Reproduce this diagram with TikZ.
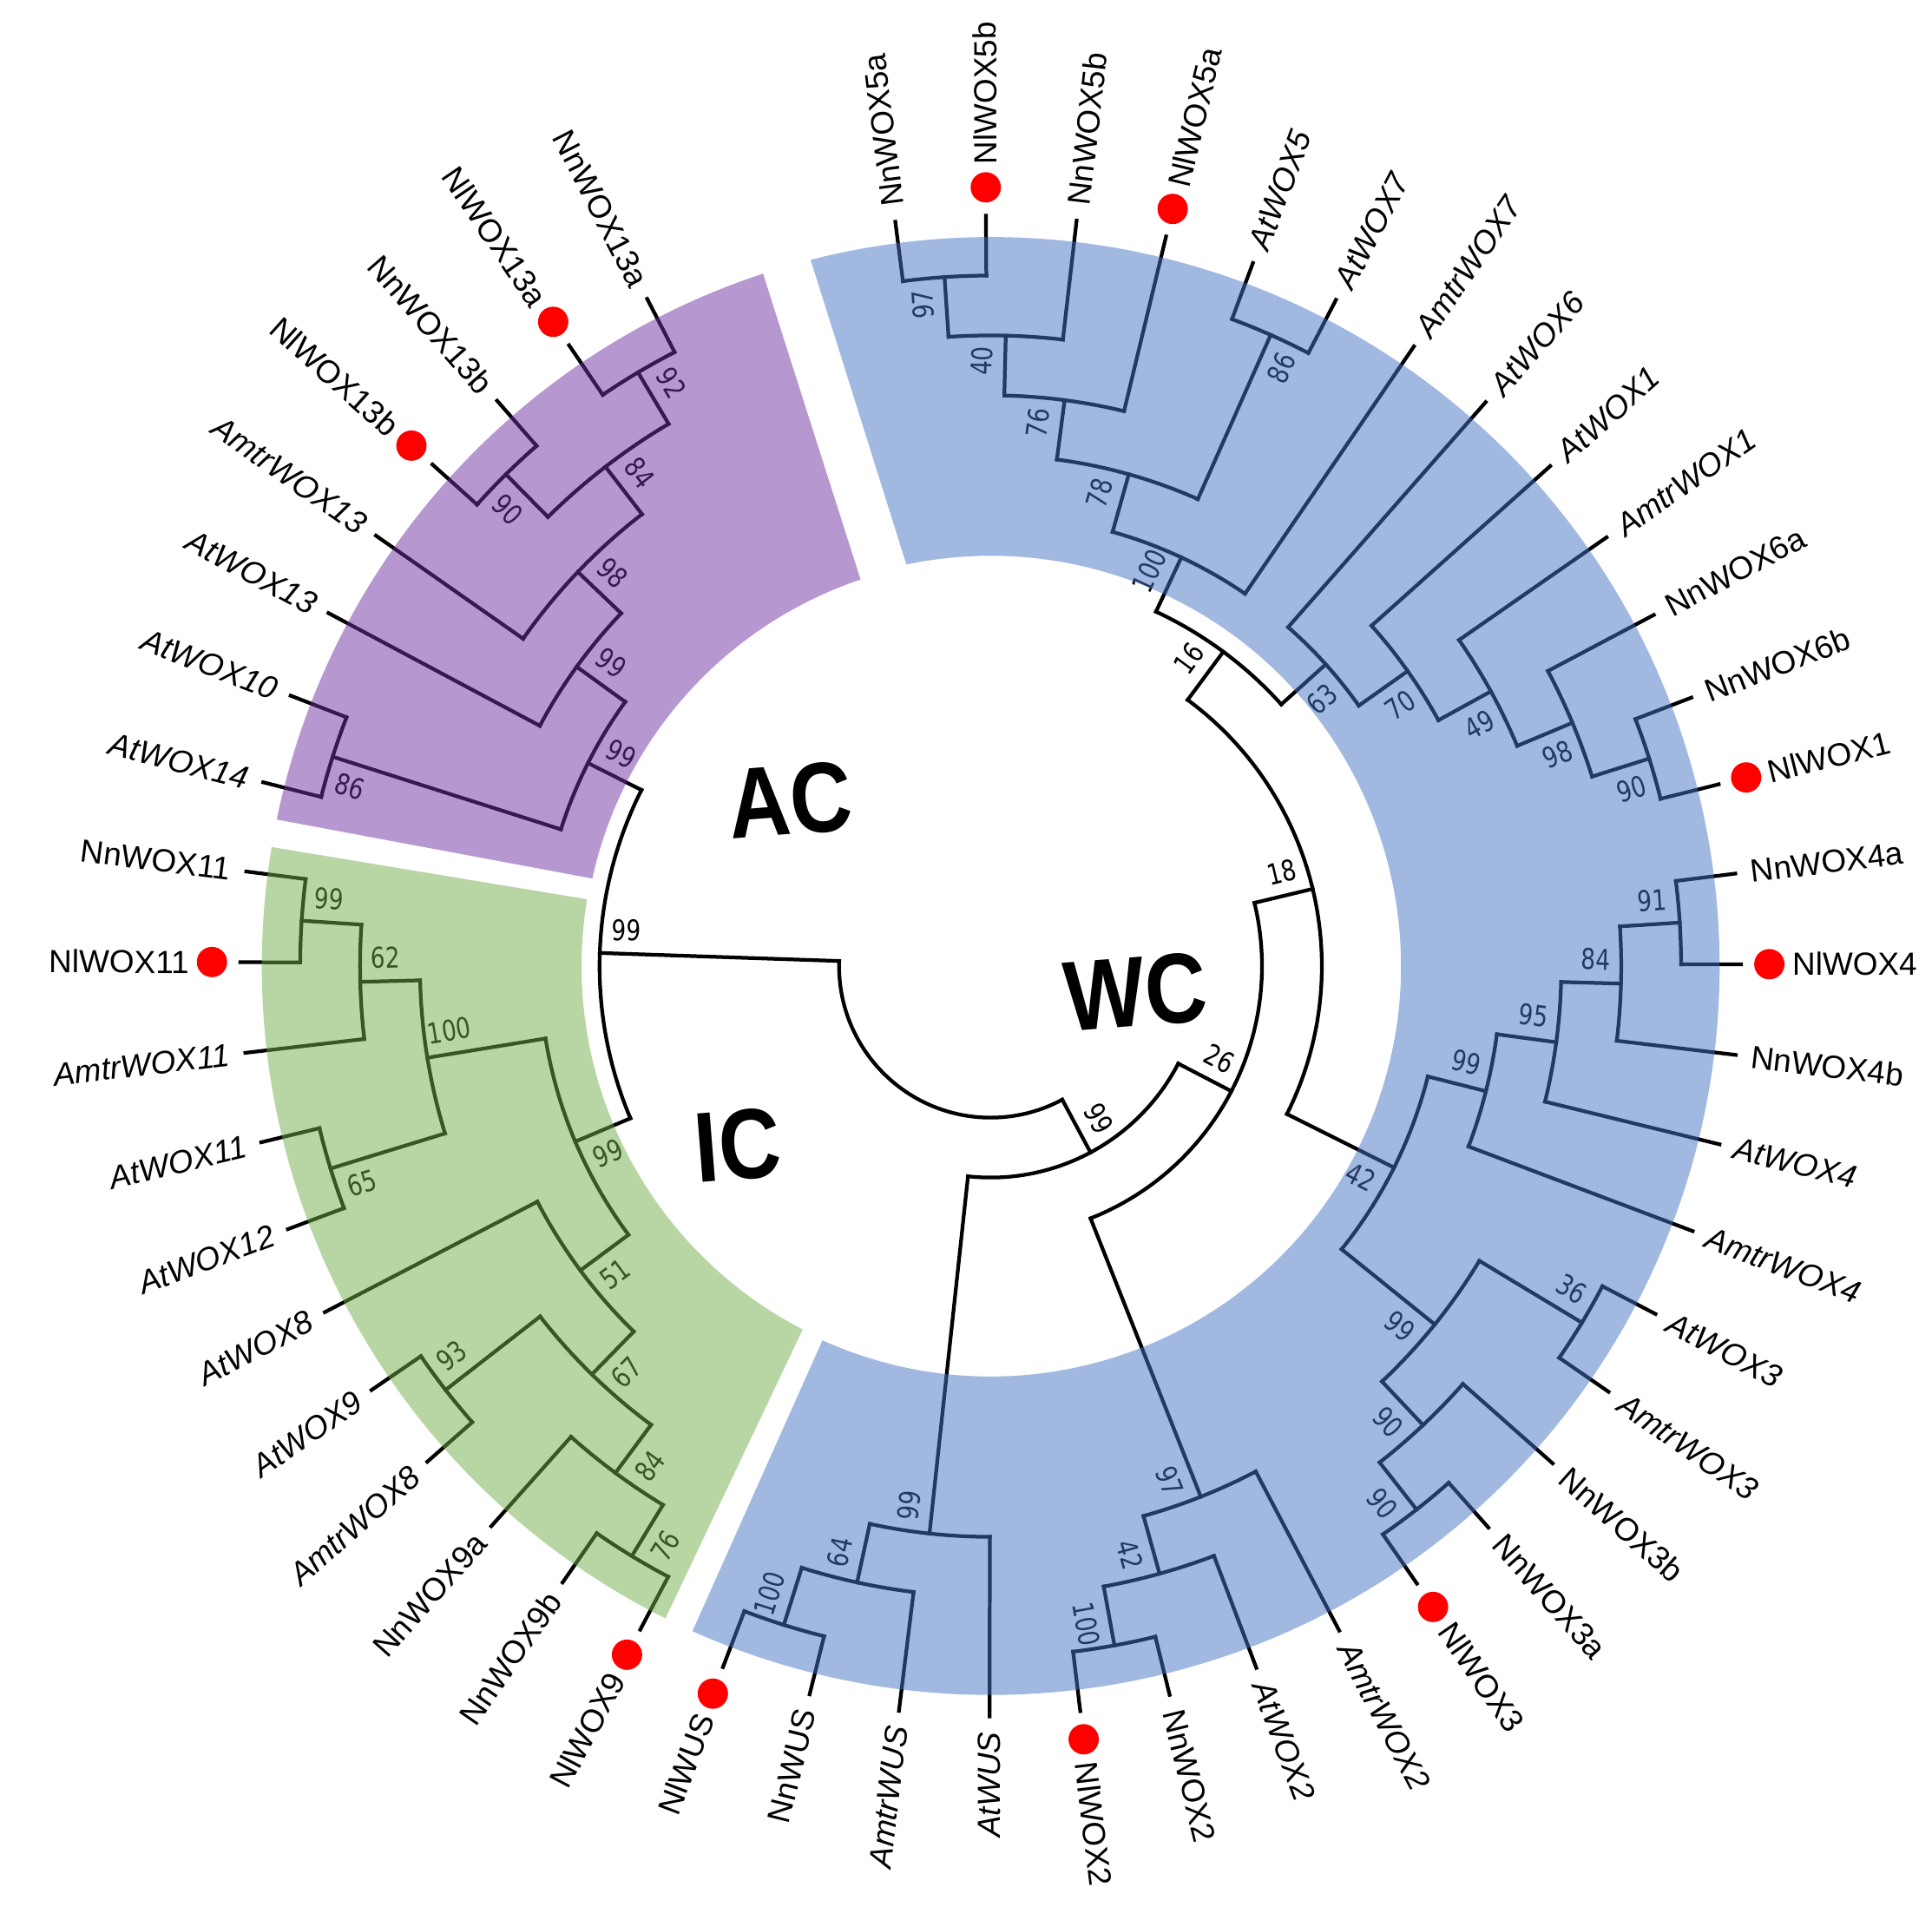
\documentclass[tikz,border=0pt]{standalone}
\usepackage{fontspec}
\setmainfont{Liberation Sans}
\newfontfamily\bootfont[FakeStretch=0.8]{DejaVu Sans}
\usetikzlibrary{calc}

\definecolor{wcblue}{RGB}{68,114,196}
\definecolor{acpurple}{RGB}{112,48,160}
\definecolor{icgreen}{RGB}{112,173,71}
\newcommand{\leaffont}{\fontsize{7.4}{8}\selectfont}

% nodo interno: nome, angolo, livello, livello padre, figlio 1, figlio 2, bootstrap, lato
\newcommand{\clade}[8]{%
  \pgfmathsetmacro{\cRn}{1.23+0.486*#3}%
  \pgfmathsetmacro{\cRp}{1.23+0.486*#4}%
  \pgfmathsetmacro{\cRb}{\cRn-0.21}%
  \pgfmathsetmacro{\cRa}{#2+(#8)}%
  \pgfmathsetmacro{\cRot}{(#2>-90 && #2<100) ? #2 : #2+180}%
  \draw[ramo] (#5:\cRn) arc[start angle=#5, end angle=#6, radius=\cRn];
  \draw[ramo] (#2:\cRp) -- (#2:\cRn);
  \node[bootlab, rotate=\cRot] (#1) at ($(#2:\cRb)+(\cRa:0.19)$) {#7};
}

\begin{document}
\begin{tikzpicture}[
    ramo/.style={line width=0.85pt, line cap=rect},
    bootlab/.style={font=\bootfont\fontsize{6.6}{7}\selectfont, inner sep=0pt},
    foglia/.style={inner sep=0pt},
    clado/.style={font=\bfseries\fontsize{23}{23}\selectfont, inner sep=0pt}
  ]
  \useasboundingbox (-8.04,-7.74) rectangle (7.64,7.84);

  % Rami terminali
  \foreach \i/\nm/\tp/\pl in {1/NnWOX5a/n/9, 2/NlWOX5b/l/9, 3/NnWOX5b/n/8, 4/NlWOX5a/l/7,
      5/AtWOX5/i/9, 6/AtWOX7/i/9, 7/AmtrWOX7/i/5, 8/AtWOX6/i/5, 9/AtWOX1/i/6,
      10/AmtrWOX1/i/7, 11/NnWOX6a/n/8, 12/NnWOX6b/n/9, 13/NlWOX1/l/9, 14/NnWOX4a/n/9,
      15/NlWOX4/l/9, 16/NnWOX4b/n/8, 17/AtWOX4/i/7, 18/AmtrWOX4/i/6, 19/AtWOX3/i/9,
      20/AmtrWOX3/i/9, 21/NnWOX3b/n/8, 22/NnWOX3a/n/9, 23/NlWOX3/l/9, 24/AmtrWOX2/i/7,
      25/AtWOX2/i/8, 26/NnWOX2/n/9, 27/NlWOX2/l/9, 28/AtWUS/i/7, 29/AmtrWUS/i/8,
      30/NnWUS/n/9, 31/NlWUS/l/9, 32/NlWOX9/l/9, 33/NnWOX9b/n/9, 34/NnWOX9a/n/8,
      35/AmtrWOX8/i/9, 36/AtWOX9/i/9, 37/AtWOX8/i/6, 38/AtWOX12/i/9, 39/AtWOX11/i/9,
      40/AmtrWOX11/i/8, 41/NlWOX11/l/9, 42/NnWOX11/n/9, 43/AtWOX14/i/9, 44/AtWOX10/i/9,
      45/AtWOX13/i/6, 46/AmtrWOX13/i/7, 47/NlWOX13b/l/9, 48/NnWOX13b/n/9,
      49/NlWOX13a/l/9, 50/NnWOX13a/n/9}{
    \pgfmathsetmacro{\la}{97.3-6.94*(\i-1)}
    \pgfmathsetmacro{\lp}{1.23+0.486*\pl}
    \draw[ramo] (\la:\lp) -- (\la:6.09);
  }

  % Radice
  \draw[ramo] (-181.9265:1.23) arc[start angle=-181.9265, end angle=-61.805, radius=1.23];

  % Clado WC: gruppo WOX5
  \clade{A1}{93.83}{9}{8}{97.30}{90.36}{97}{90}
  \clade{A2}{88.625}{8}{7}{93.83}{83.42}{40}{90}
  \clade{A3}{82.55}{7}{6}{88.625}{76.48}{76}{90}
  \clade{A4}{66.07}{9}{6}{69.54}{62.60}{86}{-90}
  \clade{A5}{74.31}{6}{5}{82.55}{66.07}{78}{90}
  \clade{A6}{64.985}{5}{4}{74.31}{55.66}{100}{90}
  % gruppo WOX1 / WOX6
  \clade{C90}{17.49}{9}{8}{20.96}{14.02}{90}{-90}
  \clade{C98}{22.695}{8}{7}{27.90}{17.49}{98}{-90}
  \clade{C49}{28.77}{7}{6}{34.84}{22.695}{49}{-90}
  \clade{C70}{35.275}{6}{5}{41.78}{28.77}{70}{-90}
  \clade{B63}{42.00}{5}{4}{48.72}{35.275}{63}{-90}
  \clade{N16}{53.49}{4}{3}{64.985}{42.00}{16}{90}
  % gruppo WOX4
  \clade{N91}{3.61}{9}{8}{7.08}{0.14}{91}{90}
  \clade{N84}{-1.595}{8}{7}{3.61}{-6.80}{84}{90}
  \clade{N95}{-7.6675}{7}{6}{-1.595}{-13.74}{95}{90}
  \clade{N99b}{-14.174}{6}{5}{-7.6675}{-20.68}{99}{90}
  % gruppo WOX3
  \clade{N36}{-31.09}{9}{7}{-27.62}{-34.56}{36}{90}
  \clade{N90b}{-51.91}{9}{8}{-48.44}{-55.38}{90}{-90}
  \clade{N90a}{-46.705}{8}{7}{-41.50}{-51.91}{90}{-90}
  \clade{N99c}{-38.8975}{7}{5}{-31.09}{-46.705}{99}{-90}
  \clade{N42}{-26.536}{5}{3}{-14.174}{-38.8975}{42}{-90}
  \clade{N18}{13.477}{3}{2}{53.49}{-26.536}{18}{90}
  % gruppo WOX2
  \clade{N100b}{-79.67}{9}{8}{-76.20}{-83.14}{100}{-90}
  \clade{N42b}{-74.465}{8}{7}{-69.26}{-79.67}{42}{-90}
  \clade{N97}{-68.3925}{7}{2}{-62.32}{-74.465}{97}{-90}
  \clade{N26}{-27.458}{2}{1}{13.477}{-68.3925}{26}{90}
  % gruppo WUS
  \clade{N100w}{-107.43}{9}{8}{-103.96}{-110.90}{100}{-90}
  \clade{N64}{-102.225}{8}{7}{-97.02}{-107.43}{64}{-90}
  \clade{N99w}{-96.1525}{7}{1}{-90.08}{-102.225}{99}{-90}
  \clade{W99}{-61.805}{1}{0}{-27.458}{-96.1525}{99}{90}
  % Clado IC
  \clade{G99a}{-183.77}{9}{8}{-180.30}{-187.24}{99}{-90}
  \clade{G62}{-178.565}{8}{7}{-173.36}{-183.77}{62}{-90}
  \clade{G65}{-162.95}{9}{7}{-159.48}{-166.42}{65}{90}
  \clade{G100}{-170.7575}{7}{5}{-162.95}{-178.565}{100}{-90}
  \clade{G76}{-121.31}{9}{8}{-117.84}{-124.78}{76}{90}
  \clade{G84}{-126.515}{8}{7}{-121.31}{-131.72}{84}{90}
  \clade{G93}{-142.13}{9}{7}{-138.66}{-145.60}{93}{-90}
  \clade{G67}{-134.3225}{7}{6}{-126.515}{-142.13}{67}{90}
  \clade{G51}{-143.431}{6}{5}{-134.3225}{-152.54}{51}{90}
  \clade{G99b}{-157.094}{5}{4}{-143.431}{-170.7575}{99}{90}
  % Clado AC
  \clade{P86}{-197.65}{9}{5}{-194.18}{-201.12}{86}{90}
  \clade{P90}{-225.41}{9}{8}{-221.94}{-228.88}{90}{90}
  \clade{P92}{-239.29}{9}{8}{-235.82}{-242.76}{92}{-90}
  \clade{P84}{-232.35}{8}{7}{-225.41}{-239.29}{84}{-90}
  \clade{P98}{-223.675}{7}{6}{-215.00}{-232.35}{98}{-90}
  \clade{P99a}{-215.8675}{6}{5}{-208.06}{-223.675}{99}{-90}
  \clade{P99b}{-206.759}{5}{4}{-197.65}{-215.8675}{99}{-90}
  \clade{ACIC}{-181.9265}{4}{0}{-157.094}{-206.759}{99}{-90}

  % Settori colorati
  \fill[acpurple, fill opacity=0.5] (108.2:5.915) arc[start angle=108.2, end angle=168.4, radius=5.915]
    -- (167.6:3.31) arc[start angle=167.6, end angle=108.6, radius=3.31] -- cycle;
  \fill[icgreen, fill opacity=0.5] (170.6:5.915) arc[start angle=170.6, end angle=243.5, radius=5.915]
    -- (242.65:3.32) arc[start angle=242.65, end angle=170.6, radius=3.32] -- cycle;
  \fill[wcblue, fill opacity=0.5] (104.3:5.915) arc[start angle=104.3, end angle=-114.15, radius=5.915]
    -- (-114.2:3.33) arc[start angle=-114.2, end angle=101.85, radius=3.33] -- cycle;

  % Etichette delle foglie
  \foreach \i/\nm/\tp in {1/NnWOX5a/n, 2/NlWOX5b/l, 3/NnWOX5b/n, 4/NlWOX5a/l,
      5/AtWOX5/i, 6/AtWOX7/i, 7/AmtrWOX7/i, 8/AtWOX6/i, 9/AtWOX1/i,
      10/AmtrWOX1/i, 11/NnWOX6a/n, 12/NnWOX6b/n, 13/NlWOX1/l, 14/NnWOX4a/n,
      15/NlWOX4/l, 16/NnWOX4b/n, 17/AtWOX4/i, 18/AmtrWOX4/i, 19/AtWOX3/i,
      20/AmtrWOX3/i, 21/NnWOX3b/n, 22/NnWOX3a/n, 23/NlWOX3/l, 24/AmtrWOX2/i,
      25/AtWOX2/i, 26/NnWOX2/n, 27/NlWOX2/l, 28/AtWUS/i, 29/AmtrWUS/i,
      30/NnWUS/n, 31/NlWUS/l, 32/NlWOX9/l, 33/NnWOX9b/n, 34/NnWOX9a/n,
      35/AmtrWOX8/i, 36/AtWOX9/i, 37/AtWOX8/i, 38/AtWOX12/i, 39/AtWOX11/i,
      40/AmtrWOX11/i, 41/NlWOX11/l, 42/NnWOX11/n, 43/AtWOX14/i, 44/AtWOX10/i,
      45/AtWOX13/i, 46/AmtrWOX13/i, 47/NlWOX13b/l, 48/NnWOX13b/n,
      49/NlWOX13a/l, 50/NnWOX13a/n}{
    \pgfmathsetmacro{\la}{97.3-6.94*(\i-1)}
    \pgfmathsetmacro{\lr}{\i<28 ? \la : \la+180}
    \ifnum\i<28 \def\anc{west}\else\def\anc{east}\fi
    \def\lrad{6.21}\def\lfont{\upshape}
    \if\tp l\def\lrad{6.50}\fill[red] (\la:6.32) circle (0.123);\fi
    \if\tp i\def\lfont{\itshape}\fi
    \node[foglia, anchor=\anc, rotate=\lr, font=\leaffont\lfont] (\nm) at (\la:\lrad) {\nm};
  }

  % Nomi dei cladi
  \node[clado, rotate=4.5, xscale=0.86] (ac) at (-1.627,1.348) {AC};
  \node[clado, rotate=4.5, xscale=0.86] (ic) at (-2.052,-1.453) {IC};
  \node[clado, rotate=4.5, xscale=0.86] (wc) at (1.178,-0.21) {WC};
\end{tikzpicture}
\end{document}
